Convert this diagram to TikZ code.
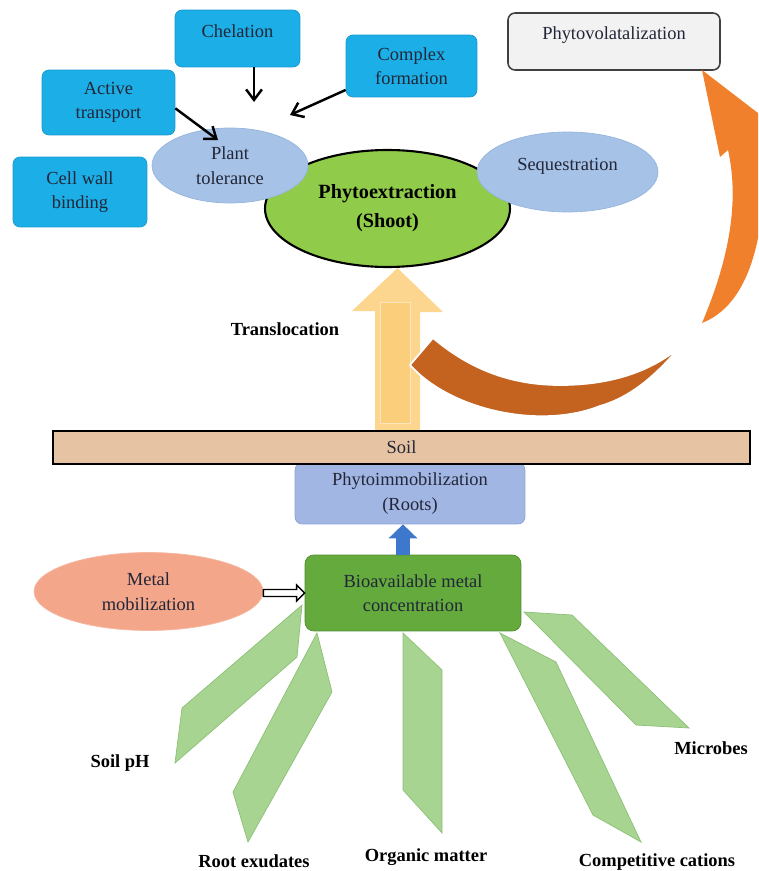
\documentclass[tikz,border=0pt]{standalone}
\usepackage{fontspec}
\setmainfont{Liberation Serif}
\usetikzlibrary{arrows.meta, positioning, shapes.geometric, calc}

\definecolor{cyanbox}{RGB}{28,174,230}
\definecolor{cyanline}{RGB}{22,150,205}
\definecolor{tolblue}{RGB}{166,194,230}
\definecolor{tolline}{RGB}{150,180,222}
\definecolor{shootgreen}{RGB}{144,204,74}
\definecolor{volgray}{RGB}{242,242,242}
\definecolor{soiltan}{RGB}{230,196,163}
\definecolor{rootblue}{RGB}{162,182,228}
\definecolor{rootline}{RGB}{140,162,215}
\definecolor{biogreen}{RGB}{100,170,60}
\definecolor{bioline}{RGB}{78,140,44}
\definecolor{peach}{RGB}{244,166,138}
\definecolor{leafgreen}{RGB}{168,212,146}
\definecolor{leafline}{RGB}{140,192,118}
\definecolor{upblue}{RGB}{62,120,204}
\definecolor{transyellow}{RGB}{252,214,142}
\definecolor{transinner}{RGB}{250,206,122}
\definecolor{volorange}{RGB}{240,128,44}
\definecolor{volbrown}{RGB}{196,98,32}
\definecolor{textdark}{RGB}{34,38,56}

\begin{document}
\begin{tikzpicture}[x=0.02cm, y=-0.02cm, font=\fontsize{10.5}{14}\selectfont,
    mechbox/.style={draw=cyanline, fill=cyanbox, rounded corners=4pt, align=center, text=textdark, inner sep=0pt},
    blob/.style={ellipse, draw=tolline, fill=tolblue, align=center, text=textdark, inner sep=0pt},
    tag/.style={font=\fontsize{10.5}{14}\selectfont\bfseries},
    leaf/.style={fill=leafgreen, draw=leafline, line width=0.4pt},
    push/.style={line width=1.4pt, -{Straight Barb[length=6pt,width=9pt]}}]
      \useasboundingbox (0,0) rectangle (758,871);
      \clip (0,0) rectangle (758,871);

      \node[draw=black!75, fill=volgray, rounded corners=4pt, line width=0.9pt, minimum width=4.24cm, minimum height=1.14cm, text=textdark, text depth=9pt] (vol) at (614,41.5) {Phytovolatalization};

      \node[mechbox, minimum width=2.5cm, minimum height=1.14cm, text depth=8pt] (chel) at (237.5,38.5) {Chelation};
      \node[mechbox, minimum width=2.62cm, minimum height=1.24cm] (cplx) at (411.5,66) {Complex\\formation};
      \node[mechbox, minimum width=2.66cm, minimum height=1.3cm] (actv) at (108.5,102.5) {Active\\transport};
      \node[mechbox, minimum width=2.68cm, minimum height=1.4cm] (cwall) at (80,192) {Cell wall\\binding};

      \coordinate (tolc) at (254,102);
      \coordinate (tolx) at (290,115);
      \coordinate (tola) at (218,140);
      \draw[push] (chel.south -| tolc) -- (tolc);
      \draw[push] (cplx.200) -- (tolx);

      \node[ellipse, draw=black, line width=1.2pt, fill=shootgreen, minimum width=4.9cm, minimum height=2.34cm, inner sep=0pt, align=center, font=\fontsize{11.5}{16.5}\selectfont\bfseries] (ext) at (387.5,208.5) {Phytoextraction\\(Shoot)};
      \node[blob, minimum width=3.12cm, minimum height=1.5cm] (tol) at (230,165.5) {Plant\\tolerance};
      \node[ellipse, draw=tolline, fill=tolblue, text=textdark, inner sep=0pt, minimum width=3.62cm, minimum height=1.6cm, text depth=9pt] (seq) at (567.5,172) {Sequestration};
      \draw[push] (actv.355) -- (tola);

      \coordinate (trbase) at (397.5,431);
      \coordinate (trtip) at (trbase |- ext.south);
      \fill[transyellow] (trbase) ++(-22.5,0) -- ++(0,-120) -- ++(-23,0) -- (trtip) -- ++(45.5,44) -- ++(-23,0) -- ++(0,120) -- cycle;
      \filldraw[fill=transinner, draw=transyellow!60!white] (380,302) rectangle (410,423);
      \node[tag] (transl) at (285,329) {Translocation};

      \filldraw[fill=volbrown, draw=white, line width=1pt] (410,365) .. controls (450,410) and (540,430) .. (600,406) .. controls (635,396) and (660,370) .. (680,347) .. controls (650,372) and (610,385) .. (560,385) .. controls (505,385) and (465,365) .. (433,338) -- cycle;
      \fill[volorange] (702,323) .. controls (748,305) and (768,240) .. (764,138) -- (780,130) -- (702,70) -- (720,157) -- (728,150) .. controls (738,195) and (733,250) .. (702,323) -- cycle;

      \node[draw=rootline, fill=rootblue, rounded corners=4pt, minimum width=4.6cm, minimum height=1.22cm, align=center, text=textdark] (immo) at (410,493.5) {Phytoimmobilization\\(Roots)};
      \node[draw=black, line width=1.1pt, fill=soiltan, minimum width=13.94cm, minimum height=0.66cm, inner sep=0pt, text=textdark] (soil) at (401.5,447.5) {Soil};

      \foreach \xa/\ya/\xb/\yb/\xc/\yc/\xd/\yd in {302/605/297/657/175/763/182/708, 317/633/332/692/248/842/233/792, 403/633/442/670/442/833/403/790, 500/633/556/662/641/842/593/815, 524/612/572/615/689/728/636/725} {
        \filldraw[leaf] (\xa,\ya) -- (\xb,\yb) -- (\xc,\yc) -- (\xd,\yd) -- cycle;
      }

      \node[draw=bioline, fill=biogreen, rounded corners=5pt, minimum width=4.32cm, minimum height=1.52cm, align=center, text=textdark] (bio) at (413,593) {Bioavailable metal\\concentration};
      \node[ellipse, draw=peach!80!white, fill=peach, minimum width=4.58cm, minimum height=1.56cm, inner sep=0pt, align=center, text=textdark] (metal) at (148.5,591.5) {Metal\\mobilization};

      \coordinate (upx) at (403,0);
      \draw[upblue, line width=8pt, -{Triangle[length=8pt,width=16pt]}] (bio.north -| upx) -- (immo.south -| upx);
      \draw[fill=white, line width=0.8pt] ($(metal.east |- bio.west)+(0,-3.5)$) -- ($(bio.west)+(-8,-3.5)$) -- ($(bio.west)+(-8,-8)$) -- (bio.west) -- ($(bio.west)+(-8,8)$) -- ($(bio.west)+(-8,3.5)$) -- ($(metal.east |- bio.west)+(0,3.5)$) -- cycle;

      \node[tag] (ph) at (120,763) {Soil pH};
      \node[tag] (rootex) at (254,861) {Root exudates};
      \node[tag] (orgm) at (426,857) {Organic matter};
      \node[tag] (cations) at (657,862) {Competitive cations};
      \node[tag] (microbes) at (711,748) {Microbes};
    \end{tikzpicture}
\end{document}
